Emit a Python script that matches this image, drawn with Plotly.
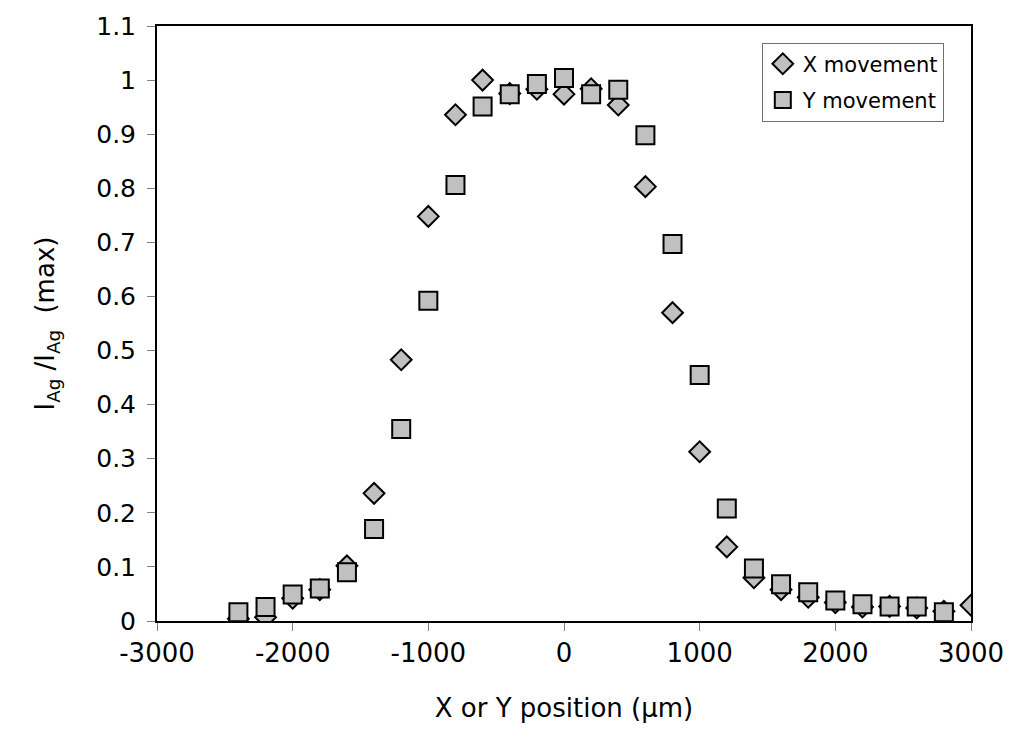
import plotly.graph_objects as go

positions = [-2400, -2200, -2000, -1800, -1600, -1400, -1200, -1000, -800, -600, -400, -200,
             0, 200, 400, 600, 800, 1000, 1200, 1400, 1600, 1800, 2000, 2200, 2400, 2600, 2800, 3000]
x_movement = [0.004, 0.007, 0.042, 0.058, 0.102, 0.236, 0.483, 0.748, 0.936, 1.0, 0.975, 0.983,
              0.974, 0.984, 0.954, 0.803, 0.570, 0.313, 0.137, 0.080, 0.058, 0.044, 0.034, 0.026,
              0.027, 0.024, 0.018, 0.029]
y_positions = positions[:-1]
y_movement = [0.016, 0.026, 0.049, 0.060, 0.090, 0.170, 0.355, 0.592, 0.806, 0.951, 0.974, 0.993,
              1.004, 0.974, 0.982, 0.898, 0.697, 0.455, 0.208, 0.097, 0.068, 0.053, 0.038, 0.031,
              0.027, 0.027, 0.016]

FONT = "DejaVu Sans, Verdana, sans-serif"

fig = go.Figure()
fig.add_trace(go.Scatter(
    x=positions, y=x_movement, mode="markers", name="X movement", legendgroup="a",
    marker=dict(symbol="diamond", size=16, color="#c0c0c0", line=dict(color="black", width=2)),
))
fig.add_trace(go.Scatter(
    x=y_positions, y=y_movement, mode="markers", name="Y movement", legendgroup="b",
    marker=dict(symbol="square", size=18, color="#c0c0c0", line=dict(color="black", width=2)),
))

fig.update_layout(
    width=1016, height=750,
    margin=dict(l=157, r=41, t=19, b=129),
    paper_bgcolor="white", plot_bgcolor="white",
    font=dict(family=FONT, size=21, color="black"),
    showlegend=True,
    legend=dict(
        x=0.743, y=0.972, xanchor="left", yanchor="top",
        bgcolor="white", bordercolor="#707070", borderwidth=1,
        font=dict(family=FONT, size=21, color="black"),
        itemsizing="trace", tracegroupgap=6, itemwidth=30,
    ),
)
fig.update_xaxes(
    range=[-3000, 3000], tickvals=[-3000, -2000, -1000, 0, 1000, 2000, 3000],
    ticktext=["-3000", "-2000", "-1000", "0", "1000", "2000", "3000"],
    showgrid=False, zeroline=False, showline=True, linecolor="black", linewidth=2, mirror=True,
    ticks="outside", ticklen=8, tickcolor="#808080", tickwidth=1,
    ticklabelstandoff=0,
    tickfont=dict(family=FONT, size=26),
    title=dict(text="X or Y position (µm)", font=dict(family=FONT, size=26), standoff=32),
)
fig.update_yaxes(
    range=[0, 1.1], tickvals=[i / 10 for i in range(12)],
    ticktext=["0", "0.1", "0.2", "0.3", "0.4", "0.5", "0.6", "0.7", "0.8", "0.9", "1", "1.1"],
    showgrid=False, zeroline=False, showline=True, linecolor="black", linewidth=2, mirror=True,
    ticks="outside", ticklen=8, tickcolor="#808080", tickwidth=1,
    ticklabelstandoff=6,
    tickfont=dict(family=FONT, size=25),
    title=dict(text="I<sub>Ag</sub> /I<sub>Ag</sub>  (max)", font=dict(family=FONT, size=26), standoff=34),
)

fig.write_html("out.html")
